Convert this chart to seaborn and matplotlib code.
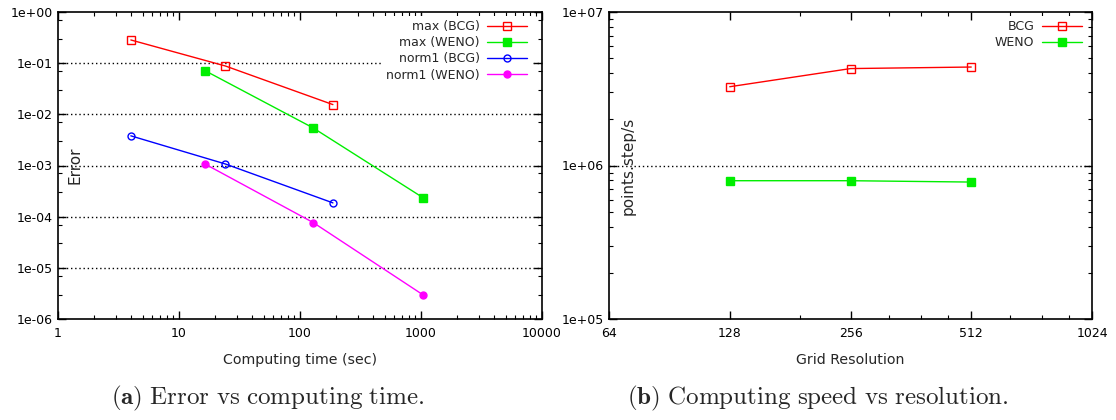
import numpy as np
import pandas as pd
import seaborn as sns
import matplotlib
matplotlib.use("Agg")
import matplotlib.pyplot as plt
from matplotlib.ticker import FuncFormatter, FixedLocator, LogLocator, NullFormatter

# data
# (a) error vs computing time
time_bcg = [4.0, 24.2, 187.0]
time_weno = [16.4, 128.6, 1045.0]
err_max_bcg = [0.284, 0.088, 0.0155]
err_max_weno = [0.0714, 0.00542, 2.33e-4]
err_norm1_bcg = [3.8e-3, 1.07e-3, 1.86e-4]
err_norm1_weno = [1.07e-3, 7.67e-5, 2.94e-6]

# (b) speed vs resolution
resolution = [128, 256, 512]
speed_bcg = [3.26e6, 4.28e6, 4.38e6]
speed_weno = [7.96e5, 7.96e5, 7.8e5]

RED = "#ff0000"
GREEN = "#00ee00"
BLUE = "#0000ff"
MAGENTA = "#ff00ff"

sns.set_theme(style="ticks")
plt.rcParams["font.family"] = ["DejaVu Sans"]
plt.rcParams["mathtext.fontset"] = "cm"
FS = 9


def draw_series(ax, x, y, label, col, marker, filled):
    face = col if filled else "none"
    sns.lineplot(x=x, y=y, ax=ax, color=col, label=label, lw=1.0,
                 marker=marker, markersize=5.5 if marker == "s" else 5,
                 markerfacecolor=face, markeredgecolor=col, markeredgewidth=1.0,
                 estimator=None, sort=False)


def style_axes(ax):
    ax.tick_params(which="both", direction="in", top=True, right=True,
                   colors="black", labelsize=FS)
    ax.tick_params(which="major", length=6, width=1.0)
    ax.tick_params(which="minor", length=3, width=0.8)
    ax.tick_params(axis="x", pad=6)
    ax.tick_params(axis="y", pad=4)
    for s in ax.spines.values():
        s.set_linewidth(1.2)
        s.set_color("black")
    ax.grid(False)


def add_legend(ax, xa):
    leg = ax.legend(loc="upper right", bbox_to_anchor=(xa, 1.006), fontsize=FS,
                    frameon=True, fancybox=False, framealpha=1.0, edgecolor="none",
                    facecolor="white", markerfirst=False, handlelength=3.2,
                    handletextpad=0.6, labelspacing=0.25, borderpad=0.3)
    for t in leg.get_texts():
        t.set_ha("right")
    return leg


fig = plt.figure(figsize=(11.16, 4.2), dpi=100)
ax1 = fig.add_axes([58 / 1116, 1 - 319 / 420, 484 / 1116, 307 / 420])
ax2 = fig.add_axes([609 / 1116, 1 - 319 / 420, 483 / 1116, 307 / 420])

# ---- left panel
ax1.set_xscale("log")
ax1.set_yscale("log")
draw_series(ax1, time_bcg, err_max_bcg, "max (BCG)", RED, "s", False)
draw_series(ax1, time_weno, err_max_weno, "max (WENO)", GREEN, "s", True)
draw_series(ax1, time_bcg, err_norm1_bcg, "norm1 (BCG)", BLUE, "o", False)
draw_series(ax1, time_weno, err_norm1_weno, "norm1 (WENO)", MAGENTA, "o", True)
ax1.set_xlim(1, 10000)
ax1.set_ylim(1e-6, 1)
for v in [1e-1, 1e-2, 1e-3, 1e-4, 1e-5]:
    ax1.axhline(v, color="black", lw=1.0, ls=(0, (1, 2)), zorder=0)
ax1.xaxis.set_major_locator(FixedLocator([1, 10, 100, 1000, 10000]))
ax1.xaxis.set_minor_locator(LogLocator(base=10, subs=np.arange(2, 10)))
ax1.xaxis.set_major_formatter(FuncFormatter(lambda v, p: f"{v:g}"))
ax1.xaxis.set_minor_formatter(NullFormatter())
ax1.yaxis.set_major_locator(FixedLocator([10.0 ** k for k in range(-6, 1)]))
ax1.yaxis.set_minor_locator(LogLocator(base=10, subs=[3, 7]))
ax1.yaxis.set_major_formatter(FuncFormatter(lambda v, p: f"{v:.0e}"))
ax1.yaxis.set_minor_formatter(NullFormatter())
style_axes(ax1)
ax1.set_xlabel("Computing time (sec)", fontsize=10.2)
ax1.xaxis.set_label_coords(0.5, -0.11)
ax1.set_ylabel("")
ax1.text(0.036, 0.5, "Error", rotation=90, transform=ax1.transAxes,
         ha="center", va="center", fontsize=11)
add_legend(ax1, 0.99)

# ---- right panel
ax2.set_xscale("log", base=2)
ax2.set_yscale("log")
draw_series(ax2, resolution, speed_bcg, "BCG", RED, "s", False)
draw_series(ax2, resolution, speed_weno, "WENO", GREEN, "s", True)
ax2.set_xlim(64, 1024)
ax2.set_ylim(1e5, 1e7)
ax2.axhline(1e6, color="black", lw=1.0, ls=(0, (1, 2)), zorder=0)
ax2.xaxis.set_major_locator(FixedLocator([64, 128, 256, 512, 1024]))
ax2.xaxis.set_minor_locator(FixedLocator([192, 320, 384, 448, 640, 768, 896]))
ax2.xaxis.set_major_formatter(FuncFormatter(lambda v, p: f"{v:g}"))
ax2.xaxis.set_minor_formatter(NullFormatter())
ax2.yaxis.set_major_locator(FixedLocator([1e5, 1e6, 1e7]))
ax2.yaxis.set_minor_locator(LogLocator(base=10, subs=np.arange(2, 10)))
ax2.yaxis.set_major_formatter(FuncFormatter(lambda v, p: f"{v:.0e}"))
ax2.yaxis.set_minor_formatter(NullFormatter())
style_axes(ax2)
ax2.set_xlabel("Grid Resolution", fontsize=10.2)
ax2.xaxis.set_label_coords(0.5, -0.11)
ax2.set_ylabel("")
ax2.text(0.039, 0.5, "points.step/s", rotation=90, transform=ax2.transAxes,
         ha="center", va="center", fontsize=11)
add_legend(ax2, 1.0)

# ---- captions
fig.text(268 / 1116, 1 - 398 / 420,
         r"$\mathbf{(a)}\ \mathrm{Error\ vs\ computing\ time.}$",
         ha="center", va="center", fontsize=18)
fig.text(818 / 1116, 1 - 398 / 420,
         r"$\mathbf{(b)}\ \mathrm{Computing\ speed\ vs\ resolution.}$",
         ha="center", va="center", fontsize=18)

fig.savefig("out.png", dpi=100, facecolor="white")
